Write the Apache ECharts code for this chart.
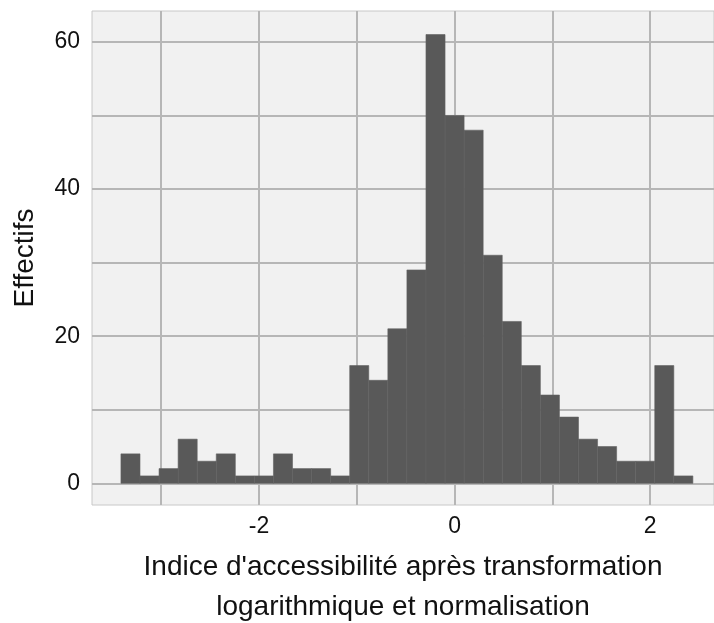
<!DOCTYPE html>
<html>
<head>
<meta charset="utf-8">
<script src="https://cdn.jsdelivr.net/npm/echarts@6/dist/echarts.min.js"></script>
<style>
html,body{margin:0;padding:0;background:#fff;}
#chart{width:714px;height:623px;}
</style>
</head>
<body>
<div id="chart"></div>
<script>
// Histogram data (30 bins)
const binStart = -3.412;
const binWidth = 0.195;
const counts = [4,1,2,6,3,4,1,1,4,2,2,1,16,14,21,29,61,50,48,31,22,16,12,9,6,5,3,3,16,1];
const xTickLabels = [-2, 0, 2];
const yTickLabels = [0, 20, 40, 60];
const xGridValues = [-3, -2, -1, 0, 1, 2];
const yGridValues = [0, 10, 20, 30, 40, 50, 60];
const xTitle = "Indice d'accessibilité après transformation\nlogarithmique et normalisation";
const yTitle = "Effectifs";

const FONT = "'Liberation Sans', Arial, sans-serif";
const histData = counts.map((c, i) => [binStart + i * binWidth, binStart + (i + 1) * binWidth, c]);

const chart = echarts.init(document.getElementById('chart'), null, {renderer: 'canvas'});
const gridLine = {color: '#B6B6B6', width: 2, type: 'solid'};
chart.setOption({
  animation: false,
  backgroundColor: '#ffffff',
  grid: {
    left: 92, top: 11, right: 0, bottom: 118,
    containLabel: false, outerBoundsMode: 'none',
    show: true, backgroundColor: '#F1F1F1', borderColor: '#C8C8C8', borderWidth: 1
  },
  xAxis: {
    type: 'value', min: -3.708, max: 2.654,
    axisLine: {show: false}, axisTick: {show: false}, splitLine: {show: false},
    axisLabel: {customValues: xTickLabels, color: '#111', fontSize: 23, fontFamily: FONT, margin: 10},
    name: xTitle, nameLocation: 'middle', nameGap: 42,
    nameTextStyle: {color: '#111', fontSize: 28, fontFamily: FONT, lineHeight: 40}
  },
  yAxis: {
    type: 'value', min: -2.95, max: 64.2,
    axisLine: {show: false}, axisTick: {show: false}, splitLine: {show: false},
    axisLabel: {customValues: yTickLabels, color: '#111', fontSize: 23, fontFamily: FONT, margin: 12},
    name: yTitle, nameLocation: 'middle', nameGap: 53, nameRotate: 90,
    nameTextStyle: {color: '#111', fontSize: 28, fontFamily: FONT}
  },
  series: [
    {
      type: 'line', data: [], z: 1, silent: true,
      markLine: {
        z: 1, silent: true, symbol: 'none', animation: false,
        label: {show: false},
        lineStyle: gridLine,
        emphasis: {disabled: true},
        data: xGridValues.map(v => ({xAxis: v})).concat(yGridValues.map(v => ({yAxis: v})))
      }
    },
    {
      type: 'custom', z: 10,
      data: histData,
      encode: {x: [0, 1], y: 2},
      renderItem: function (params, api) {
        const p0 = api.coord([api.value(0), api.value(2)]);
        const p1 = api.coord([api.value(1), 0]);
        return {
          type: 'rect',
          shape: {x: p0[0], y: p0[1], width: p1[0] - p0[0], height: p1[1] - p0[1]},
          style: {fill: '#595959', stroke: '#626262', lineWidth: 0.6}
        };
      }
    }
  ]
});
</script>
</body>
</html>
